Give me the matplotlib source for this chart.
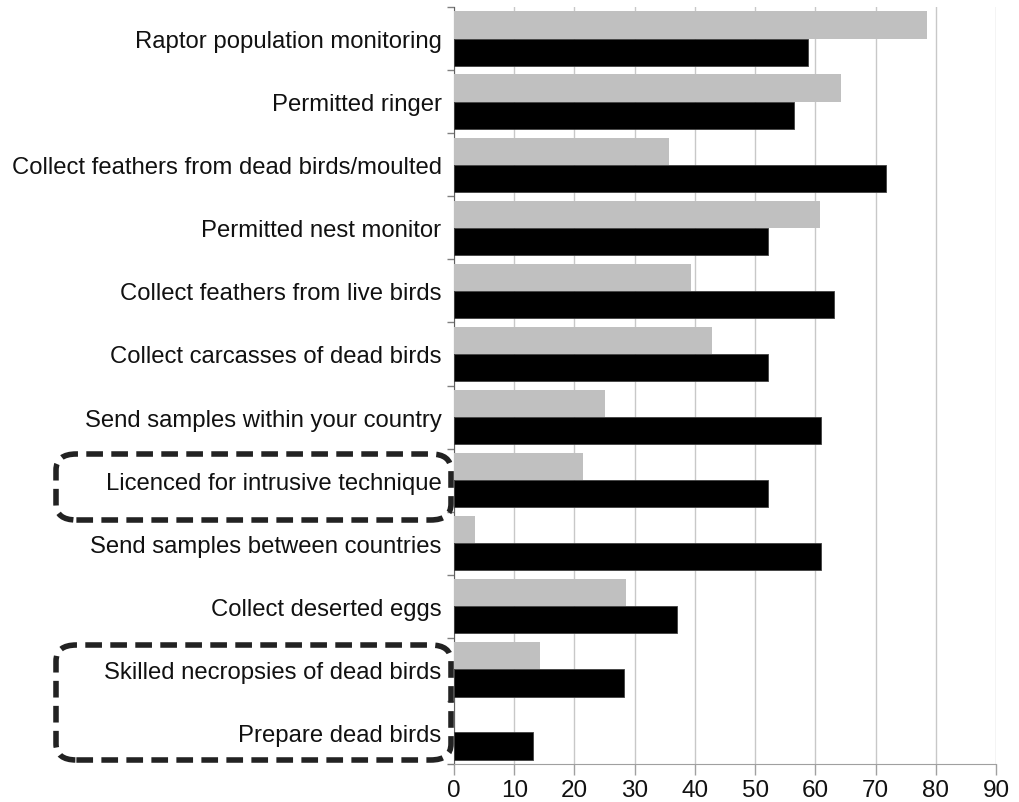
import matplotlib
matplotlib.use("Agg")
import matplotlib.pyplot as plt
from matplotlib.patches import FancyBboxPatch
import numpy as np

plt.rcParams['font.family'] = ['Liberation Sans', 'DejaVu Sans']

categories = [
    "Raptor population monitoring",
    "Permitted ringer",
    "Collect feathers from dead birds/moulted",
    "Permitted nest monitor",
    "Collect feathers from live birds",
    "Collect carcasses of dead birds",
    "Send samples within your country",
    "Licenced for intrusive technique",
    "Send samples between countries",
    "Collect deserted eggs",
    "Skilled necropsies of dead birds",
    "Prepare dead birds",
]
gray_values = [78.6, 64.3, 35.7, 60.7, 39.3, 42.9, 25.0, 21.4, 3.5, 28.5, 14.3, 0.0]
black_values = [58.7, 56.5, 71.7, 52.2, 63.1, 52.2, 60.9, 52.2, 60.9, 37.0, 28.3, 13.1]
xticks = [0, 10, 20, 30, 40, 50, 60, 70, 80, 90]

W, H = 1019, 803
fig = plt.figure(figsize=(W / 100, H / 100), dpi=100)
ax = fig.add_axes([454 / W, 1 - 765 / H, (996 - 454) / W, (765 - 8) / H])

y = np.arange(len(categories))
bh = 0.43
ax.barh(y - bh / 2, gray_values, height=bh, color="#c0c0c0", zorder=3)
ax.barh(y + bh / 2, black_values, height=bh, color="#000000", edgecolor="#404040",
        linewidth=0.6, zorder=3)

ax.set_ylim(len(categories) - 0.5, -0.5)
ax.set_xlim(0, 90)
ax.set_xticks(xticks)
ax.set_xticklabels([str(t) for t in xticks], fontsize=17.5)
ax.set_yticks(y)
ax.set_yticklabels(categories, fontsize=17.2, color="#111111")
ax.tick_params(axis='y', length=0, pad=9)
ax.set_yticks(np.arange(len(categories) + 1) - 0.5, minor=True)
ax.tick_params(axis='y', which='minor', length=5, color="#808080", width=1)
ax.tick_params(axis='x', length=8, color="#a0a0a0", width=1, pad=3, labelcolor="#111111")

ax.grid(axis='x', color="#c8c8c8", linewidth=1.0, zorder=0)
for side in ['top', 'right']:
    ax.spines[side].set_visible(False)
ax.spines['left'].set_color("#606060")
ax.spines['bottom'].set_color("#a0a0a0")

# dashed rounded highlight boxes around labels
def hbox(x0, y0, x1, y1):
    p = FancyBboxPatch((x0 / W, 1 - y1 / H), (x1 - x0) / W, (y1 - y0) / H,
                       boxstyle="round,pad=0,rounding_size=0.02",
                       transform=fig.transFigure, fill=False,
                       edgecolor="#222222", linewidth=4, linestyle=(0, (3, 1.5)),
                       zorder=10)
    fig.patches.append(p)

hbox(56, 455, 451, 521)
hbox(56, 646, 451, 761)

fig.savefig("out.png", dpi=100)
